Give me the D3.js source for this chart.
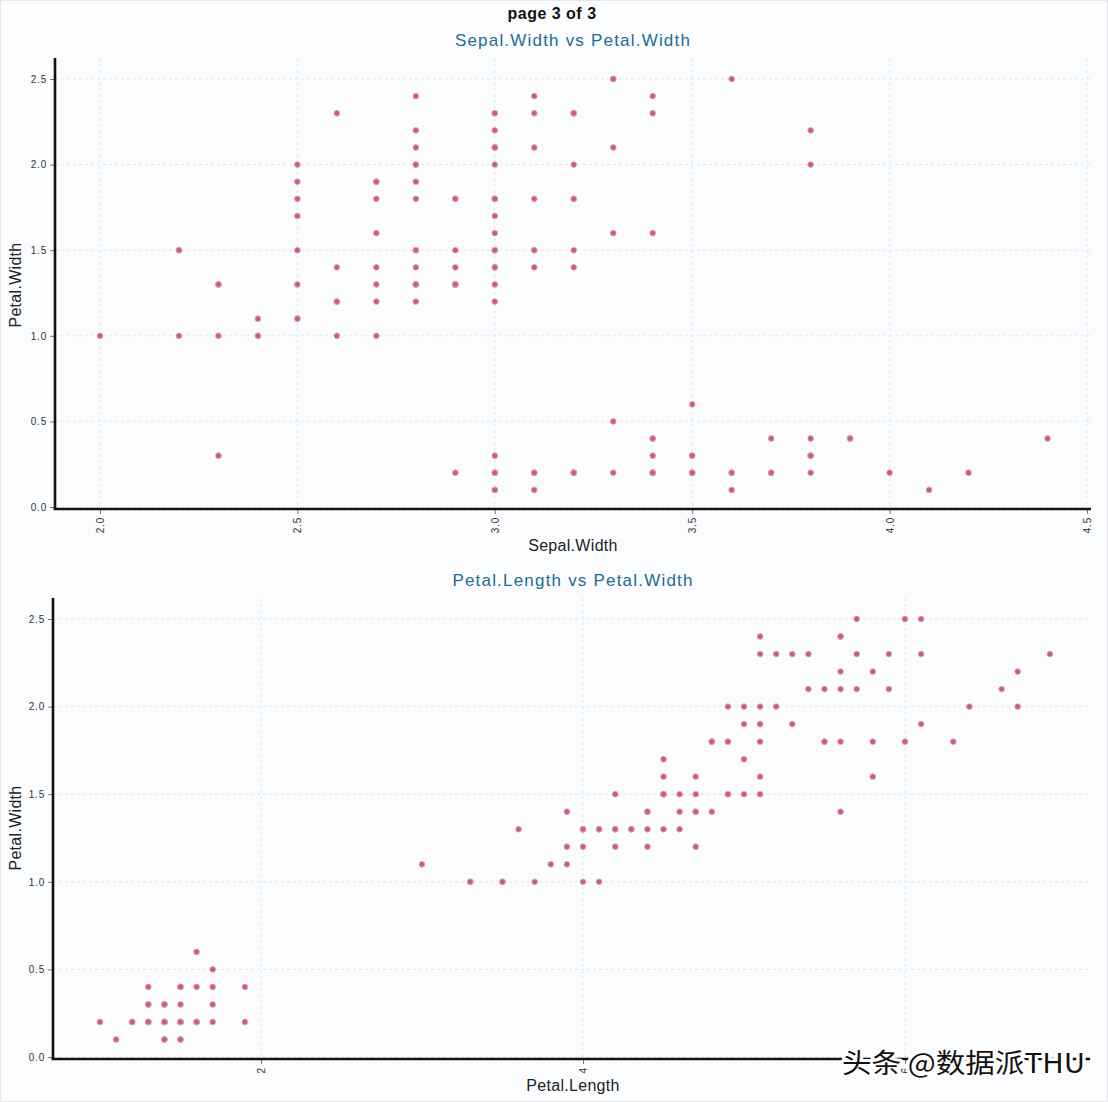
<!DOCTYPE html>
<html><head><meta charset="utf-8">
<script src="https://cdn.jsdelivr.net/npm/d3@7/dist/d3.min.js"></script>
<style>
html,body{margin:0;padding:0;background:#fbfcfe;}
svg{display:block;font-family:"Liberation Sans",Arial,sans-serif;}
</style></head><body>
<script>
const sepalWidth = [3.5,3.0,3.2,3.1,3.6,3.9,3.4,3.4,2.9,3.1,3.7,3.4,3.0,3.0,4.0,4.4,3.9,3.5,3.8,3.8,3.4,3.7,3.6,3.3,3.4,3.0,3.4,3.5,3.4,3.2,3.1,3.4,4.1,4.2,3.1,3.2,3.5,3.6,3.0,3.4,3.5,2.3,3.2,3.5,3.8,3.0,3.8,3.2,3.7,3.3,
3.2,3.2,3.1,2.3,2.8,2.8,3.3,2.4,2.9,2.7,2.0,3.0,2.2,2.9,2.9,3.1,3.0,2.7,2.2,2.5,3.2,2.8,2.5,2.8,2.9,3.0,2.8,3.0,2.9,2.6,2.4,2.4,2.7,2.7,3.0,3.4,3.1,2.3,3.0,2.5,2.6,3.0,2.6,2.3,2.7,3.0,2.9,2.9,2.5,2.8,
3.3,2.7,3.0,2.9,3.0,3.0,2.5,2.9,2.5,3.6,3.2,2.7,3.0,2.5,2.8,3.2,3.0,3.8,2.6,2.2,3.2,2.8,2.8,2.7,3.3,3.2,2.8,3.0,2.8,3.0,2.8,3.8,2.8,2.8,2.6,3.0,3.4,3.1,3.0,3.1,3.1,3.1,2.7,3.2,3.3,3.0,2.5,3.0,3.4,3.0];
const petalLength = [1.4,1.4,1.3,1.5,1.4,1.7,1.4,1.5,1.4,1.5,1.5,1.6,1.4,1.1,1.2,1.5,1.3,1.4,1.7,1.5,1.7,1.5,1.0,1.7,1.9,1.6,1.6,1.5,1.4,1.6,1.6,1.5,1.5,1.4,1.5,1.2,1.3,1.4,1.3,1.5,1.3,1.3,1.3,1.6,1.9,1.4,1.6,1.4,1.5,1.4,
4.7,4.5,4.9,4.0,4.6,4.5,4.7,3.3,4.6,3.9,3.5,4.2,4.0,4.7,3.6,4.4,4.5,4.1,4.5,3.9,4.8,4.0,4.9,4.7,4.3,4.4,4.8,5.0,4.5,3.5,3.8,3.7,3.9,5.1,4.5,4.5,4.7,4.4,4.1,4.0,4.4,4.6,4.0,3.3,4.2,4.2,4.2,4.3,3.0,4.1,
6.0,5.1,5.9,5.6,5.8,6.6,4.5,6.3,5.8,6.1,5.1,5.3,5.5,5.0,5.1,5.3,5.5,6.7,6.9,5.0,5.7,4.9,6.7,4.9,5.7,6.0,4.8,4.9,5.6,5.8,6.1,6.4,5.6,5.1,5.6,6.1,5.6,5.5,4.8,5.4,5.6,5.1,5.1,5.9,5.7,5.2,5.0,5.2,5.4,5.1];
const petalWidth = [0.2,0.2,0.2,0.2,0.2,0.4,0.3,0.2,0.2,0.1,0.2,0.2,0.1,0.1,0.2,0.4,0.4,0.3,0.3,0.3,0.2,0.4,0.2,0.5,0.2,0.2,0.4,0.2,0.2,0.2,0.2,0.4,0.1,0.2,0.2,0.2,0.2,0.1,0.2,0.2,0.3,0.3,0.2,0.6,0.4,0.3,0.2,0.2,0.2,0.2,
1.4,1.5,1.5,1.3,1.5,1.3,1.6,1.0,1.3,1.4,1.0,1.5,1.0,1.4,1.3,1.4,1.5,1.0,1.5,1.1,1.8,1.3,1.5,1.2,1.3,1.4,1.4,1.7,1.5,1.0,1.1,1.0,1.2,1.6,1.5,1.6,1.5,1.3,1.3,1.3,1.2,1.4,1.2,1.0,1.3,1.2,1.3,1.3,1.1,1.3,
2.5,1.9,2.1,1.8,2.2,2.1,1.7,1.8,1.8,2.5,2.0,1.9,2.1,2.0,2.4,2.3,1.8,2.2,2.3,1.5,2.3,2.0,2.0,1.8,2.1,1.8,1.8,1.8,2.1,1.6,1.9,2.0,2.2,1.5,1.4,2.3,2.4,1.8,1.8,2.1,2.4,2.3,1.9,2.3,2.5,2.3,1.9,2.0,2.3,1.8];

const pageTitle = "page 3 of 3";
const panelTitles = ["Sepal.Width vs Petal.Width", "Petal.Length vs Petal.Width"];
const xLabels = ["Sepal.Width", "Petal.Length"];
const yLabel = "Petal.Width";
const xTicksTop = [2.0, 2.5, 3.0, 3.5, 4.0, 4.5];
const xTicksBottom = [2, 4, 6];
const yTicks = [0.0, 0.5, 1.0, 1.5, 2.0, 2.5];
const watermark = "头条 @数据派THU";

const W = 1108, H = 1102;
const svg = d3.select("body").append("svg").attr("width", W).attr("height", H);
svg.append("rect").attr("width", W).attr("height", H).attr("fill", "#fbfcfe");
svg.append("rect").attr("x",0.5).attr("y",0.5).attr("width",W-1).attr("height",H-1)
  .attr("fill","none").attr("stroke","#e6e8ec");

svg.append("text").attr("x", 552).attr("y", 19).attr("text-anchor","middle")
  .attr("font-size", 16).attr("font-weight", "bold").attr("letter-spacing", 0.5)
  .attr("fill", "#111").text(pageTitle);

const panels = [
  { xs: sepalWidth, xDom:[2.0,4.5], xRange:[100,1087], xMin:1.886, xMax:4.51, xTicks: xTicksTop, fmt: d3.format(".1f"),
    yRange:[507,79], axisTop:58, axisX:55, bottom:509, title:panelTitles[0], titleY:46, xLabel:xLabels[0], xLabelY:551, yLabelY:285 },
  { xs: petalLength, xDom:[1.0,6.0], xRange:[100,905], xMin:0.72, xMax:7.15, xTicks: xTicksBottom, fmt: d3.format("d"),
    yRange:[1057,619], axisTop:598, axisX:53, bottom:1059, title:panelTitles[1], titleY:586, xLabel:xLabels[1], xLabelY:1091, yLabelY:828 }
];

panels.forEach(p => {
  const x = d3.scaleLinear().domain(p.xDom).range(p.xRange);
  const y = d3.scaleLinear().domain([0, 2.5]).range(p.yRange);
  const g = svg.append("g");
  const right = x(p.xMax);
  // grid
  g.selectAll(".gy").data(yTicks).join("line")
    .attr("x1", p.axisX).attr("x2", right).attr("y1", d => y(d)).attr("y2", d => y(d))
    .attr("stroke", "#dbe7f2").attr("stroke-width", 1).attr("stroke-dasharray", "3,3");
  g.selectAll(".gx").data(p.xTicks).join("line")
    .attr("x1", d => x(d)).attr("x2", d => x(d)).attr("y1", p.axisTop).attr("y2", p.bottom)
    .attr("stroke", "#dbe7f2").attr("stroke-width", 1).attr("stroke-dasharray", "3,3");
  // y axis
  const ya = g.append("g").attr("transform", `translate(${p.axisX},0)`)
    .call(d3.axisLeft(y).tickValues(yTicks).tickFormat(d3.format(".1f")).tickSize(5).tickPadding(3));
  ya.select(".domain").remove();
  ya.selectAll(".tick line").attr("stroke", "#777");
  ya.selectAll(".tick text").attr("font-size", 10).attr("fill", "#333").attr("letter-spacing", 0.8)
    .attr("font-family", "'Liberation Sans',Arial,sans-serif");
  // x axis
  const xa = g.append("g").attr("transform", `translate(0,${p.bottom})`)
    .call(d3.axisBottom(x).tickValues(p.xTicks).tickFormat(p.fmt).tickSize(5).tickPadding(3));
  xa.select(".domain").remove();
  xa.selectAll(".tick line").attr("stroke", "#777");
  xa.selectAll(".tick text").attr("font-size", 10).attr("fill", "#333").attr("letter-spacing", 0.8)
    .attr("font-family", "'Liberation Sans',Arial,sans-serif")
    .attr("transform", "rotate(-90)").attr("text-anchor", "end")
    .attr("x", -8).attr("y", 0).attr("dy", "0.35em");
  // axis lines
  g.append("line").attr("x1", p.axisX).attr("x2", p.axisX).attr("y1", p.axisTop).attr("y2", p.bottom + 1)
    .attr("stroke", "#111").attr("stroke-width", 2.6);
  g.append("line").attr("x1", p.axisX - 1.3).attr("x2", right).attr("y1", p.bottom).attr("y2", p.bottom)
    .attr("stroke", "#111").attr("stroke-width", 2.6);
  // points
  g.selectAll("circle").data(petalWidth.map((v, i) => [p.xs[i], v])).join("circle")
    .attr("cx", d => x(d[0])).attr("cy", d => y(d[1])).attr("r", 2.9)
    .attr("fill", "#c95d80").attr("stroke", "#e7a8bb").attr("stroke-width", 0.8);
  // titles
  svg.append("text").attr("x", 573).attr("y", p.titleY).attr("text-anchor", "middle")
    .attr("font-size", 17).attr("fill", "#236b92").attr("letter-spacing", 1.2).text(p.title);
  svg.append("text").attr("x", 573).attr("y", p.xLabelY).attr("text-anchor", "middle")
    .attr("font-size", 16).attr("fill", "#222").attr("letter-spacing", 0.3).text(p.xLabel);
  svg.append("text").attr("transform", `translate(21,${p.yLabelY}) rotate(-90)`).attr("text-anchor", "middle")
    .attr("font-size", 16).attr("fill", "#222").attr("letter-spacing", 0.3).text(yLabel);
});

// watermark
svg.append("text").attr("x", 842).attr("y", 1073)
  .attr("font-family", "'Noto Sans CJK SC',sans-serif").attr("font-size", 27)
  .attr("textLength", 243).attr("lengthAdjust", "spacingAndGlyphs")
  .attr("fill", "#111").attr("stroke", "#fff").attr("stroke-width", 6)
  .attr("paint-order", "stroke").attr("stroke-linejoin", "round").text(watermark);
</script>
</body></html>
